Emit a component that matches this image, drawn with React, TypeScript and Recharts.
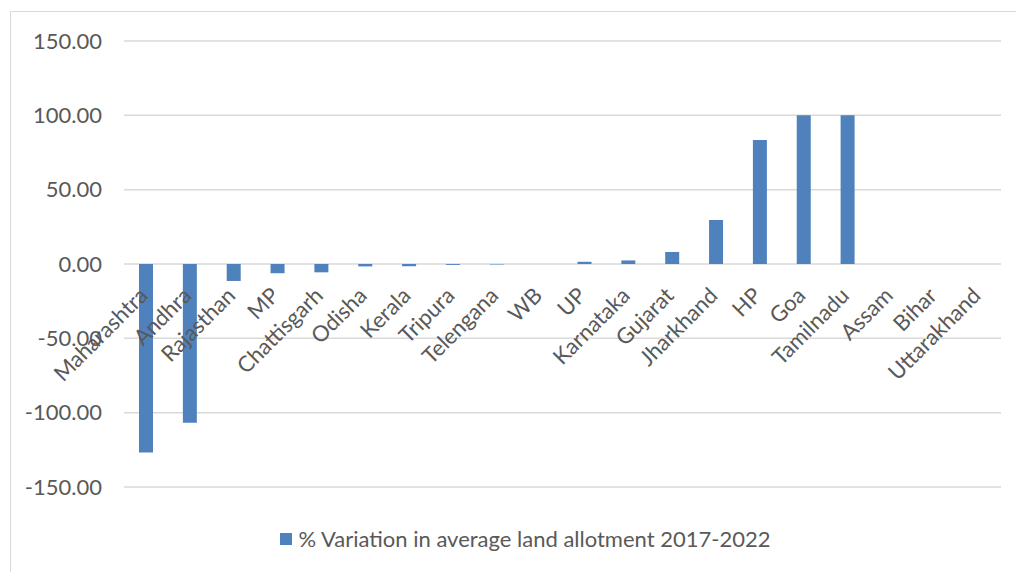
import React from 'react';
import { BarChart, Bar, XAxis, YAxis, CartesianGrid, Legend } from 'recharts';

const states = [
  'Maharashtra', 'Andhra', 'Rajasthan', 'MP', 'Chattisgarh', 'Odisha', 'Kerala',
  'Tripura', 'Telengana', 'WB', 'UP', 'Karnataka', 'Gujarat', 'Jharkhand', 'HP',
  'Goa', 'Tamilnadu', 'Assam', 'Bihar', 'Uttarakhand',
];
const variation = [
  -126.8, -106.8, -11.4, -6.2, -5.6, -1.6, -1.5, -0.6, -0.3, 0, 1.5, 2.4, 8.1,
  29.6, 83.4, 100, 100, 0, 0, 0,
];
const yTicks = [-150, -100, -50, 0, 50, 100, 150];
const seriesName = '% Variation in average land allotment 2017-2022';

const data = states.map((s, i) => ({ state: s, value: variation[i] }));

const W = 1050;
const H = 572;
const TOP = 41;
const X_AXIS_H = 30;
const BOTTOM = 85 - X_AXIS_H;
const ZERO_Y = TOP + (H - TOP - BOTTOM - X_AXIS_H) / 2;
const FONT = 'Lato, sans-serif';

const StateTick = ({ x, payload }: any) => {
  const tx = x + 3;
  const ty = ZERO_Y + 33;
  return (
    <text
      x={tx}
      y={ty}
      textAnchor="end"
      fill="#595959"
      fontSize={22}
      fontFamily={FONT}
      transform={`rotate(-45, ${tx}, ${ty})`}
    >
      {payload.value}
    </text>
  );
};

const LegendBox = () => (
  <div
    style={{
      display: 'flex',
      justifyContent: 'center',
      alignItems: 'center',
      fontFamily: FONT,
      fontSize: 22,
      color: '#595959',
    }}
  >
    <span style={{ width: 12, height: 12, background: '#4F81BD', marginRight: 7, display: 'inline-block' }} />
    <span>{seriesName}</span>
  </div>
);

export default function App() {
  return (
    <div style={{ position: 'fixed', left: 0, top: 0, width: 1016, height: 572, overflow: 'hidden', background: '#fff' }}>
      <div
        style={{
          position: 'absolute',
          left: 10,
          top: 11,
          width: 1100,
          height: 700,
          border: '1px solid #d9d9d9',
        }}
      />
      <div style={{ position: 'absolute', left: 0, top: 0 }}>
        <BarChart
          width={W}
          height={H}
          data={data}
          margin={{ top: TOP, right: 49, bottom: BOTTOM, left: 0 }}
        >
          <CartesianGrid vertical={false} stroke="#d9d9d9" strokeWidth={1.5} />
          <XAxis
            dataKey="state"
            axisLine={false}
            tickLine={false}
            interval={0}
            tick={<StateTick />}
            height={X_AXIS_H}
          />
          <YAxis
            width={124}
            domain={[-150, 150]}
            ticks={yTicks}
            axisLine={false}
            tickLine={false}
            tickMargin={16}
            tickFormatter={(v: number) => v.toFixed(2)}
            tick={{ fill: '#595959', fontSize: 22, fontFamily: FONT }}
          />
          <Legend
            layout="horizontal"
            verticalAlign="middle"
            align="center"
            wrapperStyle={{ top: 525, left: 0, width: W }}
            content={<LegendBox />}
          />
          <Bar dataKey="value" name={seriesName} fill="#4F81BD" barSize={14} isAnimationActive={false} />
        </BarChart>
      </div>
    </div>
  );
}
